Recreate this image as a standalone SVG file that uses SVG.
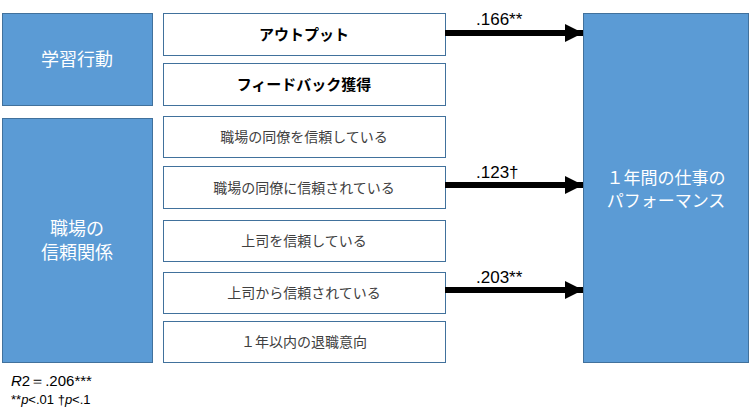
<svg xmlns="http://www.w3.org/2000/svg" width="750" height="418" viewBox="0 0 750 418">
<style>
.blue{fill:#5B9BD5;stroke:#41719C;stroke-width:1}
.white{fill:#fff;stroke:#41719C;stroke-width:1}
text{font-family:"Noto Sans CJK JP","Noto Sans",sans-serif}
.wt{fill:#fff;font-size:18px;text-anchor:middle}
.wt2{fill:#fff;font-size:17px;text-anchor:middle}
.bt{fill:#000;font-size:15px;font-weight:bold;text-anchor:middle}
.gt{fill:#404040;font-size:14px;text-anchor:middle}
.lab{font-family:"Liberation Sans",Arial,sans-serif;font-size:17px;fill:#000}
.note{font-family:"Liberation Sans",Arial,sans-serif;fill:#000}
.conn{stroke:#000;stroke-width:6;fill:none}
</style>
<defs>
<marker id="ah" markerUnits="userSpaceOnUse" markerWidth="20" markerHeight="18" refX="18" refY="9" orient="auto">
<path d="M0,0 L18,9 L0,18 Z" fill="#000"/>
</marker>
</defs>
<g id="n-learning"><rect class="blue" x="2.5" y="13.5" width="150" height="92"/><text class="wt" x="77" y="66">学習行動</text></g>
<g id="n-trust"><rect class="blue" x="2.5" y="118.5" width="150" height="244"/><text class="wt" x="77" y="235">職場の</text><text class="wt" x="77" y="259">信頼関係</text></g>
<g id="n-output"><rect class="white" x="163.5" y="13.5" width="282" height="42"/><text class="bt" x="304" y="40">アウトプット</text></g>
<g id="n-feedback"><rect class="white" x="163.5" y="63.5" width="282" height="42"/><text class="bt" x="304" y="90">フィードバック獲得</text></g>
<g id="n-t1"><rect class="white" x="163.5" y="116.5" width="282" height="41"/><text class="gt" x="304" y="142">職場の同僚を信頼している</text></g>
<g id="n-t2"><rect class="white" x="163.5" y="166.5" width="282" height="42"/><text class="gt" x="304" y="193">職場の同僚に信頼されている</text></g>
<g id="n-t3"><rect class="white" x="163.5" y="220.5" width="282" height="41"/><text class="gt" x="304" y="246">上司を信頼している</text></g>
<g id="n-t4"><rect class="white" x="163.5" y="272.5" width="282" height="41"/><text class="gt" x="304" y="298">上司から信頼されている</text></g>
<g id="n-t5"><rect class="white" x="163.5" y="321.5" width="282" height="41"/><text class="gt" x="304" y="347">１年以内の退職意向</text></g>
<g id="n-perf"><rect class="blue" x="583.5" y="13.5" width="165" height="349"/><text class="wt2" x="666" y="184">１年間の仕事の</text><text class="wt2" x="666" y="207">パフォーマンス</text></g>
<g id="connectors">
<line class="conn" x1="445" y1="33" x2="583" y2="33" marker-end="url(#ah)"/>
<line class="conn" x1="445" y1="185" x2="583" y2="185" marker-end="url(#ah)"/>
<line class="conn" x1="445" y1="290" x2="583" y2="290" marker-end="url(#ah)"/>
<text class="lab" x="476" y="25">.166**</text>
<text class="lab" x="476" y="178">.123†</text>
<text class="lab" x="476" y="283">.203**</text>
</g>
<text class="note" x="11" y="386" font-size="15"><tspan font-style="italic">R</tspan>2＝.206***</text>
<text class="note" x="11" y="404" font-size="13">**<tspan font-style="italic">p</tspan>&lt;.01 †<tspan font-style="italic">p</tspan>&lt;.1</text>
</svg>
